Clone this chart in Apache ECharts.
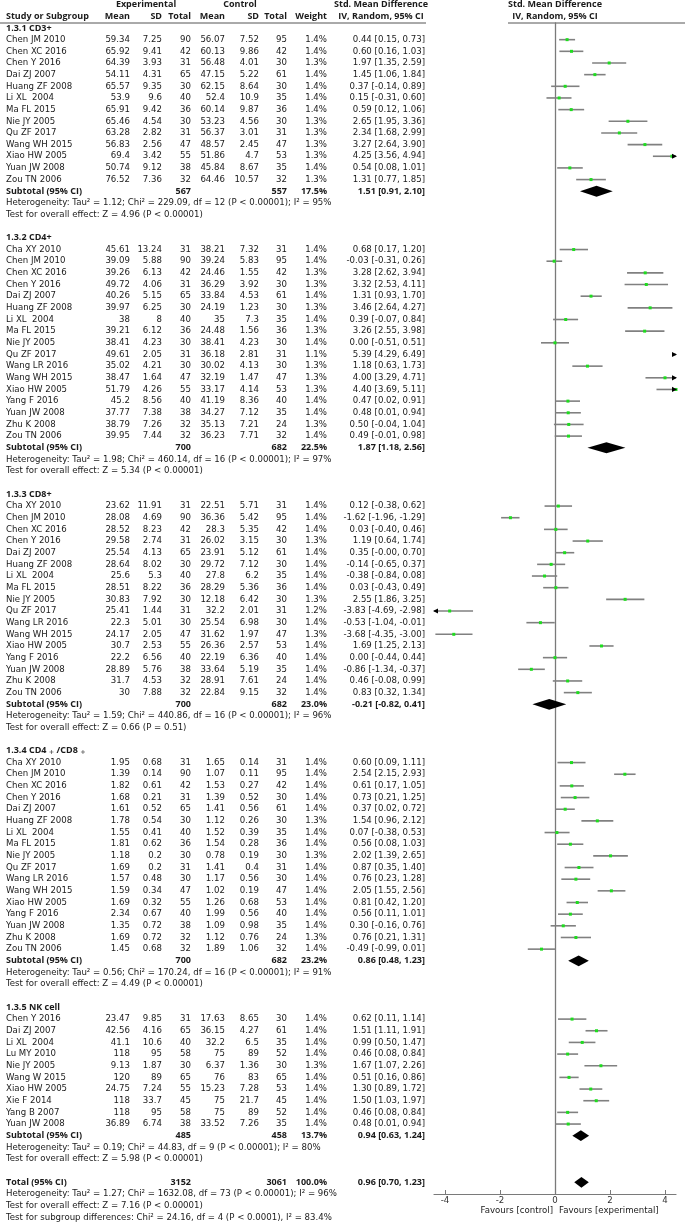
<!DOCTYPE html>
<html><head><meta charset="utf-8">
<script src="https://cdn.jsdelivr.net/npm/echarts@6/dist/echarts.min.js"></script>
<style>html,body{margin:0;padding:0;background:#fff}#c{width:685px;height:1225px}</style>
</head><body><div id="c"></div>
<script>
// ---------- DATA ----------
const cd3Studies = ['Chen JM 2010','Chen XC 2016','Chen Y 2016','Dai ZJ 2007','Huang ZF 2008','Li XL  2004','Ma FL 2015','Nie JY 2005','Qu ZF 2017','Wang WH 2015','Xiao HW 2005','Yuan JW 2008','Zou TN 2006'];
const cd3ExpMean = [59.34,65.92,64.39,54.11,65.57,53.9,65.91,65.46,63.28,56.83,69.4,50.74,76.52];
const cd3ExpSD   = [7.25,9.41,3.93,4.31,9.35,9.6,9.42,4.54,2.82,2.56,3.42,9.12,7.36];
const cd3ExpN    = [90,42,31,65,30,40,36,30,31,47,55,38,32];
const cd3CtlMean = [56.07,60.13,56.48,47.15,62.15,52.4,60.14,53.23,56.37,48.57,51.86,45.84,64.46];
const cd3CtlSD   = [7.52,9.86,4.01,5.22,8.64,10.9,9.87,4.56,3.01,2.45,4.7,8.67,10.57];
const cd3CtlN    = [95,42,30,61,30,35,36,30,31,47,53,35,32];
const cd3Weight  = [1.4,1.4,1.3,1.4,1.4,1.4,1.4,1.3,1.3,1.3,1.3,1.4,1.3];
const cd3Smd     = [0.44,0.60,1.97,1.45,0.37,0.15,0.59,2.65,2.34,3.27,4.25,0.54,1.31];
const cd3Lo      = [0.15,0.16,1.35,1.06,-0.14,-0.31,0.12,1.95,1.68,2.64,3.56,0.08,0.77];
const cd3Hi      = [0.73,1.03,2.59,1.84,0.89,0.60,1.06,3.36,2.99,3.90,4.94,1.01,1.85];
const cd3Sub     = [567,557,17.5,1.51,0.91,2.10];
const cd3Het     = 'Heterogeneity: Tau² = 1.12; Chi² = 229.09, df = 12 (P < 0.00001); I² = 95%';
const cd3Test    = 'Test for overall effect: Z = 4.96 (P < 0.00001)';

const cd4Studies = ['Cha XY 2010','Chen JM 2010','Chen XC 2016','Chen Y 2016','Dai ZJ 2007','Huang ZF 2008','Li XL  2004','Ma FL 2015','Nie JY 2005','Qu ZF 2017','Wang LR 2016','Wang WH 2015','Xiao HW 2005','Yang F 2016','Yuan JW 2008','Zhu K 2008','Zou TN 2006'];
const cd4ExpMean = [45.61,39.09,39.26,49.72,40.26,39.97,38,39.21,38.41,49.61,35.02,38.47,51.79,45.2,37.77,38.79,39.95];
const cd4ExpSD   = [13.24,5.88,6.13,4.06,5.15,6.25,8,6.12,4.23,2.05,4.21,1.64,4.26,8.56,7.38,7.26,7.44];
const cd4ExpN    = [31,90,42,31,65,30,40,36,30,31,30,47,55,40,38,32,32];
const cd4CtlMean = [38.21,39.24,24.46,36.29,33.84,24.19,35,24.48,38.41,36.18,30.02,32.19,33.17,41.19,34.27,35.13,36.23];
const cd4CtlSD   = [7.32,5.83,1.55,3.92,4.53,1.23,7.3,1.56,4.23,2.81,4.13,1.47,4.14,8.36,7.12,7.21,7.71];
const cd4CtlN    = [31,95,42,30,61,30,35,36,30,31,30,47,53,40,35,24,32];
const cd4Weight  = [1.4,1.4,1.3,1.3,1.4,1.3,1.4,1.3,1.4,1.1,1.3,1.3,1.3,1.4,1.4,1.3,1.4];
const cd4Smd     = [0.68,-0.03,3.28,3.32,1.31,3.46,0.39,3.26,0.00,5.39,1.18,4.00,4.40,0.47,0.48,0.50,0.49];
const cd4Lo      = [0.17,-0.31,2.62,2.53,0.93,2.64,-0.07,2.55,-0.51,4.29,0.63,3.29,3.69,0.02,0.01,-0.04,-0.01];
const cd4Hi      = [1.20,0.26,3.94,4.11,1.70,4.27,0.84,3.98,0.51,6.49,1.73,4.71,5.11,0.91,0.94,1.04,0.98];
const cd4Sub     = [700,682,22.5,1.87,1.18,2.56];
const cd4Het     = 'Heterogeneity: Tau² = 1.98; Chi² = 460.14, df = 16 (P < 0.00001); I² = 97%';
const cd4Test    = 'Test for overall effect: Z = 5.34 (P < 0.00001)';

const cd8Studies = cd4Studies;
const cd8ExpMean = [23.62,28.08,28.52,29.58,25.54,28.64,25.6,28.51,30.83,25.41,22.3,24.17,30.7,22.2,28.89,31.7,30];
const cd8ExpSD   = [11.91,4.69,8.23,2.74,4.13,8.02,5.3,8.22,7.92,1.44,5.01,2.05,2.53,6.56,5.76,4.53,7.88];
const cd8ExpN    = [31,90,42,31,65,30,40,36,30,31,30,47,55,40,38,32,32];
const cd8CtlMean = [22.51,36.36,28.3,26.02,23.91,29.72,27.8,28.29,12.18,32.2,25.54,31.62,26.36,22.19,33.64,28.91,22.84];
const cd8CtlSD   = [5.71,5.42,5.35,3.15,5.12,7.12,6.2,5.36,6.42,2.01,6.98,1.97,2.57,6.36,5.19,7.61,9.15];
const cd8CtlN    = [31,95,42,30,61,30,35,36,30,31,30,47,53,40,35,24,32];
const cd8Weight  = [1.4,1.4,1.4,1.3,1.4,1.4,1.4,1.4,1.3,1.2,1.4,1.3,1.4,1.4,1.4,1.4,1.4];
const cd8Smd     = [0.12,-1.62,0.03,1.19,0.35,-0.14,-0.38,0.03,2.55,-3.83,-0.53,-3.68,1.69,0.00,-0.86,0.46,0.83];
const cd8Lo      = [-0.38,-1.96,-0.40,0.64,-0.00,-0.65,-0.84,-0.43,1.86,-4.69,-1.04,-4.35,1.25,-0.44,-1.34,-0.08,0.32];
const cd8Hi      = [0.62,-1.29,0.46,1.74,0.70,0.37,0.08,0.49,3.25,-2.98,-0.01,-3.00,2.13,0.44,-0.37,0.99,1.34];
const cd8Sub     = [700,682,23.0,-0.21,-0.82,0.41];
const cd8Het     = 'Heterogeneity: Tau² = 1.59; Chi² = 440.86, df = 16 (P < 0.00001); I² = 96%';
const cd8Test    = 'Test for overall effect: Z = 0.66 (P = 0.51)';

const ratioStudies = cd4Studies;
const ratioExpMean = [1.95,1.39,1.82,1.68,1.61,1.78,1.55,1.81,1.18,1.69,1.57,1.59,1.69,2.34,1.35,1.69,1.45];
const ratioExpSD   = [0.68,0.14,0.61,0.21,0.52,0.54,0.41,0.62,0.2,0.2,0.48,0.34,0.32,0.67,0.72,0.72,0.68];
const ratioExpN    = [31,90,42,31,65,30,40,36,30,31,30,47,55,40,38,32,32];
const ratioCtlMean = [1.65,1.07,1.53,1.39,1.41,1.12,1.52,1.54,0.78,1.41,1.17,1.02,1.26,1.99,1.09,1.12,1.89];
const ratioCtlSD   = [0.14,0.11,0.27,0.52,0.56,0.26,0.39,0.28,0.19,0.4,0.56,0.19,0.68,0.56,0.98,0.76,1.06];
const ratioCtlN    = [31,95,42,30,61,30,35,36,30,31,30,47,53,40,35,24,32];
const ratioWeight  = [1.4,1.4,1.4,1.4,1.4,1.3,1.4,1.4,1.3,1.4,1.4,1.4,1.4,1.4,1.4,1.3,1.4];
const ratioSmd     = [0.60,2.54,0.61,0.73,0.37,1.54,0.07,0.56,2.02,0.87,0.76,2.05,0.81,0.56,0.30,0.76,-0.49];
const ratioLo      = [0.09,2.15,0.17,0.21,0.02,0.96,-0.38,0.08,1.39,0.35,0.23,1.55,0.42,0.11,-0.16,0.21,-0.99];
const ratioHi      = [1.11,2.93,1.05,1.25,0.72,2.12,0.53,1.03,2.65,1.40,1.28,2.56,1.20,1.01,0.76,1.31,0.01];
const ratioSub     = [700,682,23.2,0.86,0.48,1.23];
const ratioHet     = 'Heterogeneity: Tau² = 0.56; Chi² = 170.24, df = 16 (P < 0.00001); I² = 91%';
const ratioTest    = 'Test for overall effect: Z = 4.49 (P < 0.00001)';

const nkStudies = ['Chen Y 2016','Dai ZJ 2007','Li XL  2004','Lu MY 2010','Nie JY 2005','Wang W 2015','Xiao HW 2005','Xie F 2014','Yang B 2007','Yuan JW 2008'];
const nkExpMean = [23.47,42.56,41.1,118,9.13,120,24.75,118,118,36.89];
const nkExpSD   = [9.85,4.16,10.6,95,1.87,89,7.24,33.7,95,6.74];
const nkExpN    = [31,65,40,58,30,65,55,45,58,38];
const nkCtlMean = [17.63,36.15,32.2,75,6.37,76,15.23,75,75,33.52];
const nkCtlSD   = [8.65,4.27,6.5,89,1.36,83,7.28,21.7,89,7.26];
const nkCtlN    = [30,61,35,52,30,65,53,45,52,35];
const nkWeight  = [1.4,1.4,1.4,1.4,1.3,1.4,1.4,1.4,1.4,1.4];
const nkSmd     = [0.62,1.51,0.99,0.46,1.67,0.51,1.30,1.50,0.46,0.48];
const nkLo      = [0.11,1.11,0.50,0.08,1.07,0.16,0.89,1.03,0.08,0.01];
const nkHi      = [1.14,1.91,1.47,0.84,2.26,0.86,1.72,1.97,0.84,0.94];
const nkSub     = [485,458,13.7,0.94,0.63,1.24];
const nkHet     = 'Heterogeneity: Tau² = 0.19; Chi² = 44.83, df = 9 (P < 0.00001); I² = 80%';
const nkTest    = 'Test for overall effect: Z = 5.98 (P < 0.00001)';

const groupTitles = ['1.3.1 CD3+','1.3.2 CD4+','1.3.3 CD8+','1.3.4 CD4 + /CD8 +','1.3.5 NK cell'];
const totalRow  = [3152,3061,100.0,0.96,0.70,1.23];
const totalHet  = 'Heterogeneity: Tau² = 1.27; Chi² = 1632.08, df = 73 (P < 0.00001); I² = 96%';
const totalTest = 'Test for overall effect: Z = 7.16 (P < 0.00001)';
const subgroupTest = 'Test for subgroup differences: Chi² = 24.16, df = 4 (P < 0.0001), I² = 83.4%';
const xTicks = [-4,-2,0,2,4];

// ---------- LAYOUT ----------
const W = 685, H = 1225;
const ROW_H = 11.66, ROW0 = 28;
const X_MIN = -4.4, X_MAX = 4.4;
const PLOT_L = 434, PLOT_R = 676;
const COL = {name:6, em:130, esd:162, en:191, cm:225, csd:259, cn:287, w:327, ci:425, expHead:146, ctlHead:240, ciHead:381, plotHead:555};
const FONT_N = 'DejaVu Sans', FS_N = 8.6;
const FONT_B = 'Open Sans', FS_B = 9.0;
const TXT = '#1a1a1a';

const groups = [
  {s:cd3Studies,em:cd3ExpMean,esd:cd3ExpSD,en:cd3ExpN,cm:cd3CtlMean,csd:cd3CtlSD,cn:cd3CtlN,w:cd3Weight,smd:cd3Smd,lo:cd3Lo,hi:cd3Hi,sub:cd3Sub,het:cd3Het,test:cd3Test},
  {s:cd4Studies,em:cd4ExpMean,esd:cd4ExpSD,en:cd4ExpN,cm:cd4CtlMean,csd:cd4CtlSD,cn:cd4CtlN,w:cd4Weight,smd:cd4Smd,lo:cd4Lo,hi:cd4Hi,sub:cd4Sub,het:cd4Het,test:cd4Test},
  {s:cd8Studies,em:cd8ExpMean,esd:cd8ExpSD,en:cd8ExpN,cm:cd8CtlMean,csd:cd8CtlSD,cn:cd8CtlN,w:cd8Weight,smd:cd8Smd,lo:cd8Lo,hi:cd8Hi,sub:cd8Sub,het:cd8Het,test:cd8Test},
  {s:ratioStudies,em:ratioExpMean,esd:ratioExpSD,en:ratioExpN,cm:ratioCtlMean,csd:ratioCtlSD,cn:ratioCtlN,w:ratioWeight,smd:ratioSmd,lo:ratioLo,hi:ratioHi,sub:ratioSub,het:ratioHet,test:ratioTest},
  {s:nkStudies,em:nkExpMean,esd:nkExpSD,en:nkExpN,cm:nkCtlMean,csd:nkCtlSD,cn:nkCtlN,w:nkWeight,smd:nkSmd,lo:nkLo,hi:nkHi,sub:nkSub,het:nkHet,test:nkTest}
];

function f2(v){ return ((v < 0 || Object.is(v, -0)) ? '-' : '') + Math.abs(v).toFixed(2); }
function ciText(e, l, h){ return f2(e) + ' [' + f2(l) + ', ' + f2(h) + ']'; }

const texts = [];
const studyMarks = [];
const diamonds = [];
function T(x, row, text, align, bold){ texts.push({x, row, text, align: align || 'left', bold: !!bold}); }

// headers
T(COL.expHead, -2, 'Experimental', 'center', true);
T(COL.ctlHead, -2, 'Control', 'center', true);
T(COL.ciHead, -2, 'Std. Mean Difference', 'center', true);
T(COL.plotHead, -2, 'Std. Mean Difference', 'center', true);
T(COL.name, -1, 'Study or Subgroup', 'left', true);
T(COL.em, -1, 'Mean', 'right', true);
T(COL.esd, -1, 'SD', 'right', true);
T(COL.en, -1, 'Total', 'right', true);
T(COL.cm, -1, 'Mean', 'right', true);
T(COL.csd, -1, 'SD', 'right', true);
T(COL.cn, -1, 'Total', 'right', true);
T(COL.w, -1, 'Weight', 'right', true);
T(COL.ciHead, -1, 'IV, Random, 95% CI', 'center', true);
T(COL.plotHead, -1, 'IV, Random, 95% CI', 'center', true);

let r = 0;
groups.forEach((g, gi) => {
  T(COL.name, r, groupTitles[gi], 'left', true);
  r++;
  g.s.forEach((name, i) => {
    T(COL.name, r, name);
    T(COL.em, r, String(g.em[i]), 'right');
    T(COL.esd, r, String(g.esd[i]), 'right');
    T(COL.en, r, String(g.en[i]), 'right');
    T(COL.cm, r, String(g.cm[i]), 'right');
    T(COL.csd, r, String(g.csd[i]), 'right');
    T(COL.cn, r, String(g.cn[i]), 'right');
    T(COL.w, r, g.w[i].toFixed(1) + '%', 'right');
    T(COL.ci, r, ciText(g.smd[i], g.lo[i], g.hi[i]), 'right');
    studyMarks.push([r, g.smd[i], g.lo[i], g.hi[i]]);
    r++;
  });
  const s = g.sub;
  T(COL.name, r, 'Subtotal (95% CI)', 'left', true);
  T(COL.en, r, String(s[0]), 'right', true);
  T(COL.cn, r, String(s[1]), 'right', true);
  T(COL.w, r, s[2].toFixed(1) + '%', 'right', true);
  T(COL.ci, r, ciText(s[3], s[4], s[5]), 'right', true);
  diamonds.push([r, s[3], s[4], s[5]]);
  r++;
  T(COL.name, r, g.het); r++;
  T(COL.name, r, g.test); r++;
  r++;
});
T(COL.name, r, 'Total (95% CI)', 'left', true);
T(COL.en, r, String(totalRow[0]), 'right', true);
T(COL.cn, r, String(totalRow[1]), 'right', true);
T(COL.w, r, totalRow[2].toFixed(1) + '%', 'right', true);
T(COL.ci, r, ciText(totalRow[3], totalRow[4], totalRow[5]), 'right', true);
diamonds.push([r, totalRow[3], totalRow[4], totalRow[5]]);
const totalR = r;
r++;
T(COL.name, r, totalHet); r++;
T(COL.name, r, totalTest); r++;
T(COL.name, r, subgroupTest); r++;
const axisRow = totalR + 1;
const favRow = axisRow + 1.4;
T(COL.plotHead - 2, favRow, 'Favours [control]', 'right');
T(COL.plotHead + 4, favRow, 'Favours [experimental]', 'left');

// grids
const tabMin = -2.4, tabMax = 102.4;
const tabTop = ROW0 + tabMin * ROW_H;
const tabH = (tabMax - tabMin) * ROW_H;
const plotMin = -0.43;
const plotTop = ROW0 + plotMin * ROW_H;
const plotBottomY = ROW0 + axisRow * ROW_H;

const chart = echarts.init(document.getElementById('c'), null, {renderer: 'canvas'});
const option = {
  animation: false,
  backgroundColor: '#fff',
  grid: [
    {left: 0, width: W, top: tabTop, height: tabH, containLabel: false, outerBoundsMode: 'none'},
    {left: PLOT_L, width: PLOT_R - PLOT_L, top: plotTop, height: plotBottomY - plotTop, containLabel: false, outerBoundsMode: 'none'}
  ],
  xAxis: [
    {gridIndex: 0, type: 'value', min: 0, max: W, show: false},
    {gridIndex: 1, type: 'value', min: X_MIN, max: X_MAX,
      axisLine: {show: true, onZero: false, lineStyle: {color: '#7a7a7a', width: 1.2}},
      axisTick: {show: true, inside: true, length: 4, customValues: xTicks, lineStyle: {color: '#7a7a7a', width: 1}},
      axisLabel: {show: true, customValues: xTicks, margin: 2, color: '#333', fontSize: FS_N, fontFamily: FONT_N},
      splitLine: {show: false}}
  ],
  yAxis: [
    {gridIndex: 0, type: 'value', min: tabMin, max: tabMax, inverse: true, show: false},
    {gridIndex: 1, type: 'value', min: plotMin, max: axisRow, inverse: true,
      axisLine: {show: true, onZero: true, lineStyle: {color: '#7a7a7a', width: 1.3}},
      axisTick: {show: false}, axisLabel: {show: false}, splitLine: {show: false}}
  ],
  series: [
    {
      type: 'custom', xAxisIndex: 0, yAxisIndex: 0, clip: false, silent: true,
      data: texts.map((t, i) => [t.x, t.row, i]),
      renderItem: function (params, api) {
        const t = texts[api.value(2)];
        const p = api.coord([api.value(0), api.value(1)]);
        const m = t.text.match(/^(.*CD4) \+ (\/CD8) \+$/);
        const base = {x: p[0], y: p[1], align: t.align, verticalAlign: 'middle', fill: TXT,
          fontSize: t.bold ? FS_B : FS_N, fontFamily: t.bold ? FONT_B : FONT_N, fontWeight: t.bold ? 'bold' : 'normal'};
        if (m) {
          base.text = '{a|' + m[1] + '} {p|+} {a|' + m[2] + '} {p|+}';
          base.rich = {a: {fontSize: FS_B, fontFamily: FONT_B, fontWeight: 'bold', fill: TXT},
                       p: {fontSize: 6.5, fontFamily: FONT_N, fontWeight: 'normal', fill: TXT, padding: [3, 0, 0, 0]}};
        } else {
          base.text = t.text;
        }
        return {type: 'text', style: base};
      }
    },
    {
      type: 'custom', xAxisIndex: 1, yAxisIndex: 1, clip: false, silent: true,
      data: studyMarks,
      renderItem: function (params, api) {
        const row = api.value(0), est = api.value(1), lo = api.value(2), hi = api.value(3);
        const p0 = api.coord([Math.max(lo, X_MIN), row]);
        const p1 = api.coord([Math.min(hi, X_MAX), row]);
        const ch = [{type: 'line', shape: {x1: p0[0], y1: p0[1], x2: p1[0], y2: p1[1]}, style: {stroke: '#808080', lineWidth: 1.6}}];
        if (est >= X_MIN && est <= X_MAX) {
          const c = api.coord([est, row]);
          ch.push({type: 'rect', shape: {x: c[0] - 1.5, y: c[1] - 1.5, width: 3, height: 3}, style: {fill: '#1fdc1f'}});
        }
        if (lo < X_MIN) ch.push({type: 'polygon', shape: {points: [[p0[0] - 1, p0[1]], [p0[0] + 4, p0[1] - 2.6], [p0[0] + 4, p0[1] + 2.6]]}, style: {fill: '#000'}});
        if (hi > X_MAX) ch.push({type: 'polygon', shape: {points: [[p1[0] + 1, p1[1]], [p1[0] - 4, p1[1] - 2.6], [p1[0] - 4, p1[1] + 2.6]]}, style: {fill: '#000'}});
        return {type: 'group', children: ch};
      }
    },
    {
      type: 'custom', xAxisIndex: 1, yAxisIndex: 1, clip: false, silent: true,
      data: diamonds,
      renderItem: function (params, api) {
        const row = api.value(0);
        const c = api.coord([api.value(1), row]);
        const a = api.coord([api.value(2), row]);
        const b = api.coord([api.value(3), row]);
        return {type: 'polygon', shape: {points: [[a[0], c[1]], [c[0], c[1] - 5.4], [b[0], c[1]], [c[0], c[1] + 5.4]]}, style: {fill: '#000'}};
      }
    }
  ],
  graphic: [
    {type: 'line', shape: {x1: 0, y1: 23, x2: 426, y2: 23}, style: {stroke: '#555', lineWidth: 1}},
    {type: 'line', shape: {x1: 508, y1: 23, x2: W, y2: 23}, style: {stroke: '#555', lineWidth: 1}}
  ]
};
chart.setOption(option);
</script>
</body></html>
